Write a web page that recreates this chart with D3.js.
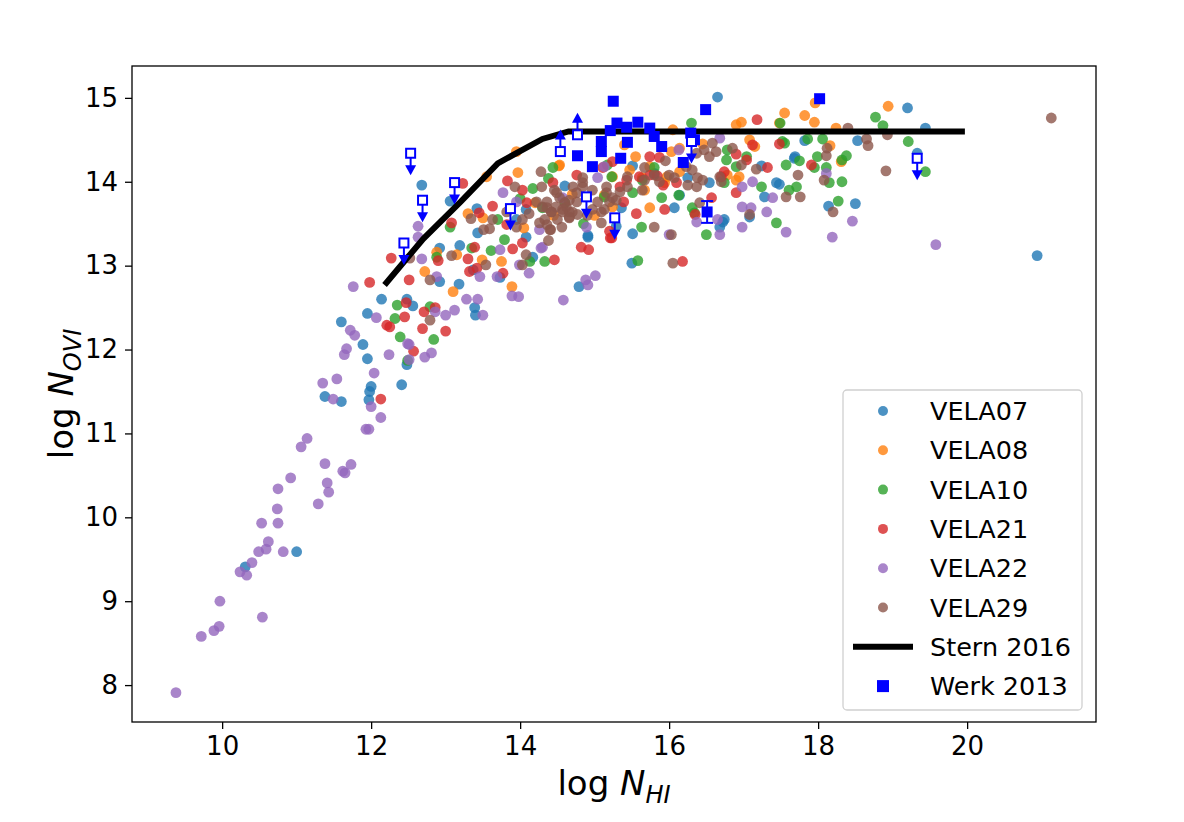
<!DOCTYPE html>
<html>
<head>
<meta charset="utf-8">
<script src="https://cdn.jsdelivr.net/npm/d3@7"></script>
<style>
  body { margin: 0; background: #fff; }
  text { font-family: "DejaVu Sans", sans-serif; }
</style>
</head>
<body>
<div id="chart"></div>
<script>
// simulation sightlines: [log N_HI, log N_OVI]
const vela07 = [
  [10.31,9.41],[11.00,9.59],[11.38,11.44],[11.60,11.38],[11.60,12.33],[11.89,12.06],[11.95,11.89],[11.95,12.43],
  [12.00,11.56],[11.98,11.50],[11.97,11.40],[12.14,12.60],[12.41,11.58],[12.48,11.82],[12.48,12.60],
  [12.68,13.96],[12.56,12.52],[12.92,12.81],[13.18,12.78],[13.06,13.77],[13.19,13.24],[13.42,13.68],[13.43,13.39],
  [13.39,12.50],[13.40,12.41],[13.73,12.86],[14.08,13.34],[14.08,13.67],[14.17,13.10],[14.79,12.75],[14.91,13.34],
  [12.92,13.21],[13.37,12.95],[13.95,13.55],[14.60,13.95],[15.80,14.10],
  [16.65,15.01],[15.50,13.03],[14.91,13.36],[15.29,13.47],[15.51,13.38],[15.36,13.69],[16.14,13.84],[16.54,13.99],
  [16.68,13.46],[16.72,13.52],[17.28,13.82],[17.44,13.99],[17.08,13.58],[17.68,14.28],[15.51,14.19],[16.25,14.05],
  [17.24,14.19],[16.07,13.69],[16.74,13.55],
  [19.20,14.88],[19.44,14.64],[19.33,14.34],[18.53,14.49],[17.69,14.30],[17.82,14.49],[18.14,13.71],[18.50,13.74],
  [20.94,13.12],[17.48,13.97]
];
const vela08 = [
  [12.88,13.16],[12.72,12.93],[13.10,12.69],[13.30,13.62],[13.50,13.57],[13.49,13.07],[13.75,13.05],[13.89,12.75],
  [13.97,14.11],[14.52,14.19],[13.15,13.13],[13.55,14.06],[13.95,14.36],
  [14.20,13.75],[14.45,13.60],[14.70,13.85],[15.00,13.60],[14.05,13.45],
  [17.55,14.82],[17.48,14.70],[16.90,14.68],[16.97,14.71],[17.08,14.50],[17.15,14.42],[16.94,14.06],[16.90,14.02],
  [16.05,14.62],[16.14,14.40],[16.03,14.36],[15.97,14.06],[15.94,13.99],[15.40,14.44],[15.47,14.14],[15.64,14.05],
  [15.74,14.18],[15.67,13.90],[15.74,13.69],[15.24,13.70],[15.24,14.06],[16.78,14.08],[15.13,13.84],[14.53,14.20],
  [16.14,14.12],[15.55,14.30],[16.45,14.45],
  [18.94,14.90],[17.96,14.94],[17.82,14.79],[17.95,14.71],[18.24,14.64],[18.16,14.43],[18.31,14.24]
];
const vela10 = [
  [12.35,12.53],[12.32,12.37],[12.39,12.15],[12.84,12.12],[13.06,13.46],[12.88,13.10],[13.35,13.21],[13.61,13.18],
  [13.79,13.31],[14.13,13.05],[14.33,13.05],[14.17,13.92],[14.44,14.17],[14.38,14.04],[12.49,11.87],[12.79,12.51],
  [13.70,13.55],[14.00,13.80],[14.60,13.75],[14.85,13.50],
  [16.30,14.70],[17.49,14.70],[17.52,14.48],[16.78,14.38],[17.04,14.30],[16.77,14.26],[16.90,14.18],[17.57,14.20],
  [17.71,13.94],[17.44,13.51],[16.13,13.84],[16.31,13.69],[16.34,13.63],[16.50,13.37],[15.90,13.81],[15.64,14.02],
  [15.80,14.17],[15.51,13.87],[15.17,14.20],[15.23,14.06],[15.13,13.82],[14.30,13.69],[15.63,13.46],[16.74,13.99],
  [17.24,13.94],[15.58,13.06],
  [18.77,14.77],[18.87,14.67],[19.21,14.48],[19.44,14.12],[17.86,14.51],[18.06,14.51],[17.55,14.46],[17.75,14.25],
  [17.95,14.17],[18.11,14.17],[17.99,14.30],[18.38,14.31],[18.32,14.26],[18.15,13.99],[18.32,14.00],[17.61,13.90],
  [18.27,13.77]
];
const vela21 = [
  [12.13,11.41],[11.98,12.80],[12.21,12.29],[12.25,12.27],[12.47,12.56],[12.45,12.39],[12.27,13.09],[12.51,12.83],
  [12.71,12.45],[12.69,12.25],[12.86,12.50],[13.00,12.22],[12.57,11.98],[13.08,13.51],[12.90,13.06],[13.23,13.98],
  [13.30,13.08],[13.39,13.22],[13.45,13.63],[13.42,12.97],[13.32,12.93],[13.63,13.71],[13.83,14.01],[13.82,13.49],
  [13.90,13.20],[14.03,13.27],[13.77,12.91],[14.09,13.75],[14.03,13.90],[14.46,13.07],[14.44,13.99],[14.76,14.08],
  [14.82,13.22],[14.92,13.19],[15.21,13.33],
  [17.18,14.74],[17.48,14.45],[16.90,14.33],[17.04,14.26],[17.12,14.44],[16.74,14.12],[16.70,14.06],[17.32,14.17],
  [16.90,13.87],[16.57,13.81],[16.35,13.61],[16.10,13.99],[15.92,13.96],[15.84,14.07],[15.60,14.06],[15.74,14.08],
  [15.34,13.94],[15.43,14.02],[15.39,13.76],[15.20,13.41],[15.23,13.33],[15.56,13.62],[15.94,13.67],[16.18,13.05],
  [15.24,14.24],[15.11,14.17],[15.74,14.30],[15.87,14.29],[17.91,14.20]
];
const vela22 = [
  [9.38,7.91],[9.72,8.58],[9.89,8.65],[9.96,8.70],[9.97,9.00],[10.54,8.81],[10.24,9.35],[10.33,9.31],[10.40,9.46],
  [10.49,9.59],[10.59,9.62],[10.62,9.71],[10.82,9.59],[10.53,9.93],[10.75,9.93],[10.74,10.10],[10.75,10.34],
  [10.92,10.47],[11.29,10.16],[11.41,10.41],[11.43,10.30],[11.38,10.64],[11.65,10.53],[11.73,10.63],[11.62,10.55],
  [11.06,10.84],[11.14,10.94],[11.93,11.05],[11.97,11.05],[12.13,11.19],[12.00,11.32],[11.49,11.41],[11.35,11.60],
  [11.54,11.65],[12.04,11.72],[11.64,11.94],[11.67,12.01],[11.72,12.23],[11.78,12.17],[12.07,12.38],[12.24,11.94],
  [11.76,12.75],[12.51,12.06],
  [12.49,12.07],[12.51,11.88],[12.72,11.91],[12.81,11.96],[12.63,13.47],[12.63,13.34],[12.68,13.08],[12.88,12.87],
  [12.86,12.45],[13.00,12.41],[13.12,12.47],[13.28,12.60],[13.43,12.60],[13.50,12.41],[13.77,13.87],[13.73,13.19],
  [13.69,12.87],[13.46,12.87],[13.89,12.64],[13.98,12.63],[14.12,12.91],[13.99,13.01],[14.28,13.21],[14.26,13.43],
  [14.58,12.59],[14.88,12.83],[14.91,12.77],[15.01,12.88],[14.89,13.46],[15.13,14.18],[13.95,13.76],[14.57,13.81],
  [15.04,14.05],[16.68,14.52],[16.98,13.94],[17.12,14.00],[16.98,13.70],[17.10,13.69],[17.31,13.64],[17.57,13.40],
  [17.39,13.81],[16.98,13.46],[16.65,13.55],[16.68,13.37],[16.37,13.52],[16.00,13.37],[16.13,14.38],[14.30,13.22],
  [18.11,14.10],[18.46,13.53],[18.19,13.34],[19.58,13.25]
];
const vela29 = [
  [12.79,12.83],[13.08,13.12],[12.79,12.35],[12.52,13.09],[13.34,13.56],[13.51,13.43],[13.59,13.44],[13.63,13.55],
  [13.54,13.01],[14.08,13.13],[14.03,13.01],[13.93,13.94],[13.82,13.64],[13.95,13.46],[14.03,13.55],[14.28,14.12],
  [14.29,13.94],[14.22,13.76],[14.36,13.76],[14.36,13.69],[14.42,13.64],[14.26,13.51],[14.36,13.49],[14.41,13.43],
  [14.38,13.30],[14.46,13.90],[14.53,13.81],[14.48,13.70],[14.56,13.46],[14.62,13.70],[14.70,13.64],[14.77,13.61],
  [14.66,13.57],[14.57,13.64],[14.60,13.75],[14.66,13.78],[14.76,13.87],[14.84,13.99],[14.71,13.94],[14.97,13.90],
  [15.04,13.76],[14.97,13.67],[15.13,13.67],[15.16,13.87],[15.24,13.81],[14.12,13.62],[14.50,13.55],[14.90,13.60],
  [16.58,14.46],[16.63,14.36],[16.47,14.38],[16.54,14.30],[16.37,14.34],[16.97,14.20],[17.17,14.15],[17.08,13.61],
  [16.68,14.06],[16.70,14.00],[16.45,14.02],[16.38,14.05],[16.25,13.96],[16.37,13.94],[16.31,14.14],[16.23,14.18],
  [16.00,14.08],[16.07,14.05],[15.80,14.08],[15.87,14.00],[15.67,14.17],[15.67,14.02],[15.64,13.90],[15.44,14.06],
  [15.44,13.94],[15.34,13.88],[15.29,13.78],[15.16,13.94],[15.20,13.76],[15.09,13.64],[15.09,13.51],[14.84,14.05],
  [14.84,13.94],[14.76,13.76],[14.66,13.64],[14.57,13.67],[14.66,13.58],[14.49,13.87],[14.42,13.64],[14.30,13.70],
  [14.33,13.55],[14.40,13.43],[15.80,13.46],[16.03,13.37],[16.05,13.03],[16.41,13.75],[16.85,14.40],[15.95,14.25],
  [21.13,14.76],[18.40,14.64],[18.65,14.51],[18.67,14.43],[18.93,14.56],[18.12,14.40],[18.11,14.31],[17.73,14.08],
  [18.08,14.02],[17.57,13.82],[17.76,13.82],[18.20,13.64],[18.91,14.13]
];

// Stern 2016 model curve
const sternX = [12.18, 12.7, 13.2, 13.7, 14.3, 14.65, 19.97];
const sternY = [12.77, 13.32, 13.76, 14.22, 14.51, 14.60, 14.60];

// Werk 2013 observations
const werkDet = [
  [15.25,14.96],[15.30,14.70],[15.58,14.71],[15.43,14.65],[15.74,14.64],[15.09,14.48],[15.09,14.36],[15.44,14.47],
  [15.80,14.54],[15.90,14.42],[14.77,14.31],[15.35,14.28],[14.97,14.18],[16.29,14.58],[16.34,14.50],[16.19,14.23],
  [16.49,14.86],[15.21,14.61],[18.02,14.99]
];
const werkErr = [[16.51, 13.64, 0.13]];
const werkUpper = [
  [12.53,14.34],[12.69,13.78],[12.44,13.27],[13.12,13.99],[13.87,13.68],[15.27,13.57],[14.89,13.82],[19.33,14.28],
  [16.30,14.48]
];
const werkLower = [[14.77,14.56],[14.54,14.36]];

const seriesNames = ["VELA07", "VELA08", "VELA10", "VELA21", "VELA22", "VELA29"];
const seriesData = [vela07, vela08, vela10, vela21, vela22, vela29];
const colors = ["#1f77b4", "#ff7f0e", "#2ca02c", "#d62728", "#9467bd", "#8c564b"];
const xTicks = [10, 12, 14, 16, 18, 20];
const yTicks = [8, 9, 10, 11, 12, 13, 14, 15];

const width = 1184, height = 822;
const margin = {left: 132, right: 88, top: 66, bottom: 100};

const svg = d3.select("#chart").append("svg")
    .attr("width", width)
    .attr("height", height);

const x = d3.scaleLinear().domain([8.79, 21.73]).range([margin.left, width - margin.right]);
const y = d3.scaleLinear().domain([7.56, 15.38]).range([height - margin.bottom, margin.top]);

// Axes
const xAxis = svg.append("g")
    .attr("transform", `translate(0,${height - margin.bottom})`)
    .call(d3.axisBottom(x).tickValues(xTicks).tickSize(7).tickPadding(8).tickFormat(d3.format("d")));
const yAxis = svg.append("g")
    .attr("transform", `translate(${margin.left},0)`)
    .call(d3.axisLeft(y).tickValues(yTicks).tickSize(7).tickPadding(7).tickFormat(d3.format("d")));
[xAxis, yAxis].forEach(a => {
    a.select(".domain").remove();
    a.selectAll(".tick line").attr("stroke", "#000").attr("stroke-width", 1.3);
    a.selectAll(".tick text").attr("fill", "#000").style("font-size", "26px")
        .style("font-family", "'DejaVu Sans', sans-serif");
});

// Scatter points
const plot = svg.append("g");
seriesData.forEach((data, i) => {
    plot.append("g").selectAll("circle")
        .data(data)
        .enter()
        .append("circle")
        .attr("cx", d => x(d[0]))
        .attr("cy", d => y(d[1]))
        .attr("r", 5.4)
        .attr("fill", colors[i])
        .attr("fill-opacity", 0.8);
});

// Stern 2016 line
const sternPts = sternX.map((v, i) => [v, sternY[i]]);
plot.append("path")
    .datum(sternPts)
    .attr("d", d3.line().x(d => x(d[0])).y(d => y(d[1])))
    .attr("fill", "none")
    .attr("stroke", "#000")
    .attr("stroke-width", 6);

// Werk 2013
const blue = "#0000ff";
const sq = 11;
const werk = svg.append("g");

function arrow(g, px, py, dir) {
    // dir = 1 down, -1 up
    g.append("line")
        .attr("x1", px).attr("x2", px)
        .attr("y1", py).attr("y2", py + dir * 14)
        .attr("stroke", blue).attr("stroke-width", 2);
    g.append("path")
        .attr("d", `M${px - 5.5},${py + dir * 12} L${px + 5.5},${py + dir * 12} L${px},${py + dir * 22} Z`)
        .attr("fill", blue);
}

werkUpper.forEach(d => arrow(werk, x(d[0]), y(d[1]), 1));
werkLower.forEach(d => arrow(werk, x(d[0]), y(d[1]), -1));

werkErr.forEach(d => {
    const px = x(d[0]), y1 = y(d[1] - d[2]), y2 = y(d[1] + d[2]);
    werk.append("line").attr("x1", px).attr("x2", px).attr("y1", y1).attr("y2", y2)
        .attr("stroke", blue).attr("stroke-width", 2);
    [y1, y2].forEach(v => werk.append("line")
        .attr("x1", px - 6).attr("x2", px + 6).attr("y1", v).attr("y2", v)
        .attr("stroke", blue).attr("stroke-width", 2));
});

werk.selectAll("rect.det")
    .data(werkDet.concat(werkErr.map(d => [d[0], d[1]])))
    .enter()
    .append("rect")
    .attr("class", "det")
    .attr("x", d => x(d[0]) - sq / 2)
    .attr("y", d => y(d[1]) - sq / 2)
    .attr("width", sq).attr("height", sq)
    .attr("fill", blue);

werk.selectAll("rect.lim")
    .data(werkUpper.concat(werkLower))
    .enter()
    .append("rect")
    .attr("class", "lim")
    .attr("x", d => x(d[0]) - (sq - 2) / 2)
    .attr("y", d => y(d[1]) - (sq - 2) / 2)
    .attr("width", sq - 2).attr("height", sq - 2)
    .attr("fill", "#fff")
    .attr("stroke", blue)
    .attr("stroke-width", 2);

// Frame
svg.append("rect")
    .attr("x", margin.left).attr("y", margin.top)
    .attr("width", width - margin.left - margin.right)
    .attr("height", height - margin.top - margin.bottom)
    .attr("fill", "none")
    .attr("stroke", "#000")
    .attr("stroke-width", 1.3);

// Axis labels
const xl = svg.append("text")
    .attr("x", (margin.left + width - margin.right) / 2)
    .attr("y", 795)
    .attr("text-anchor", "middle")
    .style("font-size", "34px");
xl.append("tspan").text("log ");
xl.append("tspan").style("font-style", "italic").text("N");
xl.append("tspan").style("font-style", "italic").style("font-size", "24px").attr("dy", 8).text("HI");

const yl = svg.append("text")
    .attr("transform", `translate(73,${(margin.top + height - margin.bottom) / 2}) rotate(-90)`)
    .attr("text-anchor", "middle")
    .style("font-size", "34px");
yl.append("tspan").text("log ");
yl.append("tspan").style("font-style", "italic").text("N");
yl.append("tspan").style("font-style", "italic").style("font-size", "24px").attr("dy", 8).text("OVI");

// Legend
const legend = svg.append("g").attr("transform", "translate(843,390)");
legend.append("rect")
    .attr("width", 239).attr("height", 320)
    .attr("rx", 4)
    .attr("fill", "#fff").attr("fill-opacity", 0.8)
    .attr("stroke", "#d0d0d0").attr("stroke-width", 1.3);

const legendItems = seriesNames.map((n, i) => ({name: n, type: "dot", color: colors[i]}))
    .concat([{name: "Stern 2016", type: "line"}, {name: "Werk 2013", type: "square"}]);

const rowH = 39.3;
legendItems.forEach((it, i) => {
    const cy = 21 + i * rowH;
    if (it.type === "dot") {
        legend.append("circle").attr("cx", 40).attr("cy", cy).attr("r", 5)
            .attr("fill", it.color).attr("fill-opacity", 0.8);
    } else if (it.type === "line") {
        legend.append("line").attr("x1", 10).attr("x2", 70).attr("y1", cy).attr("y2", cy)
            .attr("stroke", "#000").attr("stroke-width", 6);
    } else {
        legend.append("rect").attr("x", 40 - 6).attr("y", cy - 6).attr("width", 12).attr("height", 12)
            .attr("fill", blue);
    }
    legend.append("text")
        .attr("x", 87).attr("y", cy)
        .attr("dy", "0.36em")
        .style("font-size", "25.5px")
        .text(it.name);
});
</script>
</body>
</html>
